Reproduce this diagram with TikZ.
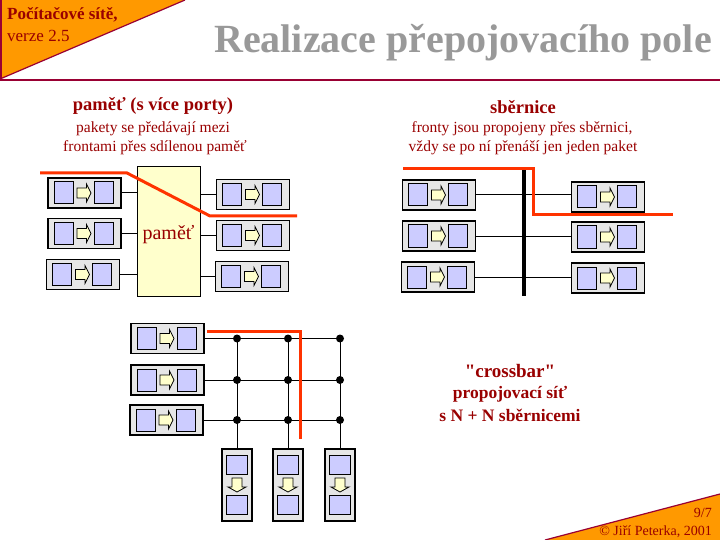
\documentclass[tikz,border=0pt]{standalone}
\usepackage{fontspec}
\setmainfont{Liberation Serif}[Ligatures=TeXOff]
\usetikzlibrary{calc}
\definecolor{dred}{HTML}{990000}
\definecolor{hline}{HTML}{990033}
\definecolor{orng}{HTML}{FF9900}
\definecolor{qgray}{HTML}{E6E6E6}
\definecolor{qblue}{HTML}{CCCCFF}
\definecolor{qyel}{HTML}{FFFFCC}
\definecolor{rline}{HTML}{FF3300}
\definecolor{tgray}{HTML}{999999}
\newcommand\fsz[1]{\fontsize{#1}{#1}\selectfont}
\tikzset{
  qbox/.style={draw=black,fill=qgray,line width=1.2pt,inner sep=0pt},
  sqr/.style={draw=black,fill=qblue,line width=1pt},
  qarr/.style={draw=black,fill=qyel,line width=0.8pt,line join=miter},
  conn/.style={draw=black,line width=1pt},
  busline/.style={draw=black,line width=4.5pt},
  redln/.style={draw=rline,line width=3pt,line join=miter},
  dotmark/.style={fill=black},
  txt/.style={text=dred,inner sep=0pt},
}
\newcommand\hq[2]{%
  \node[qbox,minimum width=73pt,minimum height=30pt] (#1) at (#2) {};
  \begin{scope}[shift={(#1.center)}]
    \draw[sqr] (-30.5,-11) rectangle (-11.5,11);
    \draw[sqr] (9.5,-11) rectangle (28.5,11);
    \draw[qarr] (-7.5,-5) -- (2,-5) -- (2,-9) -- (6.5,0) -- (2,9) -- (2,5) -- (-7.5,5) -- cycle;
  \end{scope}}
\newcommand\vq[2]{%
  \node[qbox,minimum width=30pt,minimum height=72pt] (#1) at (#2) {};
  \begin{scope}[shift={(#1.center)}]
    \draw[sqr] (-11,-30) rectangle (10,-11);
    \draw[sqr] (-11,10) rectangle (10,29);
    \draw[qarr] (-5,-7) -- (-5,2) -- (-9,2) -- (0,7) -- (9,2) -- (5,2) -- (5,-7) -- cycle;
  \end{scope}}
\begin{document}
\begin{tikzpicture}[x=1pt,y=-1pt]
\useasboundingbox (0,0) rectangle (720,540);
% header
\fill[orng] (0,0) -- (185,0) -- (0,79) -- cycle;
\draw[hline,line width=1.2pt] (185,0) -- (0,79);
\draw[hline,line width=2.5pt] (0,80) -- (720,80);
\draw[hline,line width=2pt] (1,0) -- (1,80);
\node[txt,anchor=base west] (h1) at (7,20) {\fsz{17}\bfseries Počítačové sítě,};
\node[txt,anchor=base west] (h2) at (7,42) {\fsz{17}verze 2.5};
\node[text=tgray,inner sep=0pt,anchor=base east] (title) at (712,53) {\fsz{40}\bfseries Realizace přepojovacího pole};
% footer
\fill[orng] (545,540) -- (720,494) -- (720,540) -- cycle;
\draw[hline,line width=1.2pt] (545,540) -- (720,494);
\node[txt,anchor=base east] (pg) at (712,517) {\fsz{14}9/7};
\node[txt,anchor=base east] (copy) at (712,535) {\fsz{14}© Jiří Peterka, 2001};
% section 1 texts
\node[txt] (s1a) at (153,106) {\fsz{18.5}\bfseries paměť (s více porty)};
\node[txt] (s1b) at (153,129) {\fsz{15.5}pakety se předávají mezi};
\node[txt] (s1c) at (155,148) {\fsz{15.5}frontami přes sdílenou paměť};
% section 2 texts
\node[txt] (s2a) at (523,107) {\fsz{18.5}\bfseries sběrnice};
\node[txt] (s2b) at (522,129) {\fsz{15.5}fronty jsou propojeny přes sběrnici,};
\node[txt] (s2c) at (523,148) {\fsz{15.5}vždy se po ní přenáší jen jeden paket};
% section 3 texts
\node[txt] (s3a) at (510,371) {\fsz{19}\bfseries "crossbar"};
\node[txt] (s3b) at (510,394) {\fsz{17.5}\bfseries propojovací síť};
\node[txt] (s3c) at (510,415) {\fsz{17.5}\bfseries s N + N sběrnicemi};
% ---- memory switch
\node[draw=black,fill=qyel,line width=1pt,minimum width=63pt,minimum height=129pt,inner sep=0pt] (mem) at (168.5,231.5) {};
\node[txt] (memt) at (168.5,235) {\fsz{20}paměť};
\hq{ML1}{84.5,193}
\hq{ML2}{84.5,233.5}
\hq{ML3}{83,274.5}
\hq{MR1}{253,194.5}
\hq{MR2}{253,235.5}
\hq{MR3}{252,276.5}
\foreach \n in {1,2,3}{
  \draw[conn] (ML\n.east) -- (mem.west |- ML\n.east);
  \draw[conn] (mem.east |- MR\n.west) -- (MR\n.west);
}
\coordinate (mr0) at (40,173);
\coordinate (mr1) at (127,173);
\coordinate (mr2) at (210,216);
\coordinate (mr3) at (297,216);
\draw[redln] (mr0) -- (mr1) -- (mr2) -- (mr3);
% ---- bus switch
\hq{BL1}{439,195}
\hq{BL2}{439,236}
\hq{BL3}{438,277}
\hq{BR1}{608,197}
\hq{BR2}{608,237}
\hq{BR3}{608,278}
\foreach \n in {1,2,3}{
  \draw[conn] (BL\n.east) -- (BR\n.west |- BL\n.east);
}
\coordinate (bustop) at (524,170);
\coordinate (busbot) at (524,296);
\draw[busline] (bustop) -- (busbot);
\coordinate (br0) at (403,169);
\coordinate (br1) at (533,169);
\coordinate (br2) at (533,215);
\coordinate (br3) at (673,215);
\draw[redln] (br0) -- (br1) -- (br2) -- (br3);
% ---- crossbar
\hq{XL1}{167.5,338.5}
\hq{XL2}{167.5,380}
\hq{XL3}{166.5,420}
\vq{XB1}{237,485}
\vq{XB2}{288,485}
\vq{XB3}{340,485}
\foreach \r in {1,2,3}{
  \draw[conn] (XL\r.east) -- (XL\r.east -| XB3);
}
\foreach \c in {1,2,3}{
  \draw[conn] (XB\c.north) -- (XB\c |- XL1.east);
  \foreach \r in {1,2,3}{
    \fill[dotmark] (XB\c |- XL\r.east) circle (4);
  }
}
\coordinate (xr0) at (207,331);
\coordinate (xr1) at (300,331);
\coordinate (xr2) at (300,439);
\draw[redln] (xr0) -- (xr1) -- (xr2);
\end{tikzpicture}
\end{document}
